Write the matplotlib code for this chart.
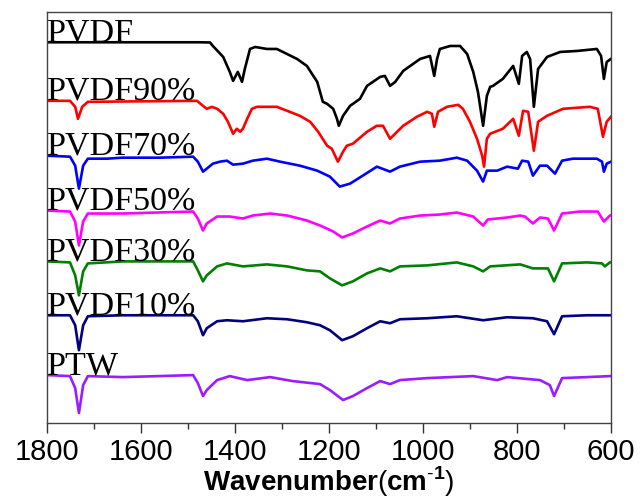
import numpy as np
import matplotlib
matplotlib.use('Agg')
import matplotlib.pyplot as plt
from matplotlib.ticker import MultipleLocator

plt.rcParams['mathtext.fontset'] = 'custom'
plt.rcParams['mathtext.rm'] = 'Liberation Sans'
plt.rcParams['mathtext.bf'] = 'Liberation Sans:bold'

# FTIR spectra, transmittance in arbitrary (stacked) units
pvdf_wn = [1800, 1474, 1453, 1447, 1425, 1411, 1404, 1394, 1385, 1379, 1368, 1357, 1332, 1311,
           1298, 1268, 1247, 1225, 1213, 1204, 1191, 1183, 1179, 1170, 1155, 1134, 1119, 1091,
           1081, 1070, 1059, 1042, 1006, 985, 976, 970, 964, 942, 921, 906, 893, 883, 872, 864,
           857, 851, 830, 808, 796, 789, 779, 772, 764, 755, 736, 708, 672, 630, 621, 615, 609, 600]
pvdf_t = [381.7, 381.7, 381.5, 378, 367, 352, 343, 352, 342, 355, 375, 377, 375, 375,
          372, 365, 358, 342, 322, 320, 315, 305, 298, 308, 318, 325, 338, 347,
          348, 338, 342, 353, 365, 368, 348, 365, 375, 378, 378, 370, 352, 332, 298, 328,
          337, 338, 345, 358, 340, 368, 372, 365, 317, 355, 367, 372, 373, 375, 368, 345, 362, 365]

p90_wn = [1800, 1751, 1740, 1734, 1725, 1713, 1481, 1468, 1460, 1449, 1438, 1425, 1415, 1404,
          1396, 1389, 1383, 1374, 1364, 1353, 1311, 1289, 1262, 1240, 1223, 1204, 1194, 1187,
          1181, 1170, 1162, 1149, 1119, 1098, 1085, 1070, 1055, 1042, 1013, 991, 981, 976, 968,
          949, 925, 915, 900, 885, 874, 870, 864, 857, 830, 808, 796, 787, 776, 764, 755, 736,
          702, 645, 628, 617, 609, 600]
p90_t = [323, 323, 317, 305, 317, 322, 323, 318, 315, 317, 315, 310, 302, 290,
         295, 292, 295, 305, 315, 317, 317, 313, 308, 302, 292, 278, 275, 268,
         262, 272, 278, 280, 292, 298, 298, 285, 292, 298, 307, 312, 310, 297, 312,
         317, 319, 315, 302, 285, 268, 257, 285, 290, 295, 305, 288, 313, 312, 273, 302, 308,
         315, 317, 315, 287, 302, 307]

p70_wn = [1800, 1751, 1740, 1732, 1723, 1713, 1672, 1640, 1560, 1489, 1479, 1468, 1460, 1447,
          1432, 1417, 1404, 1383, 1362, 1332, 1304, 1262, 1225, 1198, 1177, 1155, 1128, 1098,
          1070, 1049, 1006, 964, 928, 906, 885, 872, 864, 842, 821, 798, 789, 776, 766, 751,
          736, 719, 704, 681, 630, 619, 615, 609, 600]
p70_t = [268, 267, 258, 235, 258, 265, 265, 266, 266, 267, 262, 252, 255, 260,
         262, 263, 259, 260, 263, 265, 262, 258, 253, 247, 237, 240, 248, 257,
         252, 257, 262, 263, 266, 263, 253, 242, 253, 253, 257, 255, 263, 262, 248, 258,
         258, 250, 263, 265, 265, 262, 252, 260, 262]

p50_wn = [1800, 1751, 1740, 1732, 1723, 1713, 1640, 1566, 1489, 1479, 1468, 1460, 1438, 1411,
          1383, 1362, 1325, 1289, 1247, 1219, 1191, 1172, 1149, 1119, 1091, 1070, 1049, 1006,
          964, 928, 893, 872, 862, 821, 793, 783, 766, 751, 734, 721, 704, 666, 628, 615, 602]
p50_t = [213, 212, 202, 178, 202, 210, 210, 211, 212, 205, 193, 200, 207, 207,
         205, 208, 210, 208, 203, 198, 192, 186, 190, 197, 203, 200, 205, 208,
         209, 211, 207, 198, 204, 206, 208, 207, 200, 206, 205, 193, 210, 212, 212, 202, 208]

p30_wn = [1800, 1751, 1740, 1732, 1723, 1713, 1638, 1566, 1489, 1479, 1468, 1460, 1438, 1417,
          1383, 1332, 1289, 1247, 1219, 1198, 1172, 1149, 1119, 1091, 1070, 1049, 991, 928,
          893, 872, 857, 793, 766, 734, 721, 704, 651, 619, 613, 602]
p30_t = [162, 161, 148, 128, 152, 160, 162, 162, 162, 153, 142, 148, 157, 160,
         157, 159, 157, 153, 152, 145, 138, 142, 150, 155, 152, 157, 158, 161,
         157, 152, 157, 159, 155, 155, 142, 160, 161, 160, 157, 161]

p10_wn = [1800, 1751, 1740, 1732, 1723, 1713, 1638, 1489, 1479, 1468, 1460, 1438, 1417, 1383,
          1332, 1289, 1247, 1219, 1198, 1172, 1149, 1119, 1091, 1070, 1049, 991, 928, 872,
          821, 766, 736, 721, 704, 651, 602]
p10_t = [108, 108, 98, 73, 98, 107, 108, 108, 102, 88, 95, 102, 103, 102,
         105, 104, 101, 98, 93, 83, 87, 95, 102, 100, 104, 105, 107, 103,
         106, 105, 102, 89, 107, 108, 108]

ptw_wn = [1800, 1751, 1740, 1732, 1723, 1713, 1638, 1489, 1479, 1468, 1460, 1438, 1411, 1374,
          1325, 1277, 1219, 1198, 1170, 1149, 1119, 1091, 1070, 1049, 991, 893, 842, 821,
          751, 730, 721, 704, 651, 602]
ptw_t = [48, 47, 35, 10, 38, 47, 46, 48, 40, 27, 33, 43, 47, 43,
         46, 42, 39, 33, 23, 27, 35, 42, 39, 43, 45, 47, 43, 46,
         43, 38, 27, 45, 46, 47]

names = ['PVDF', 'PVDF90%', 'PVDF70%', 'PVDF50%', 'PVDF30%', 'PVDF10%', 'PTW']
series = [(pvdf_wn, pvdf_t), (p90_wn, p90_t), (p70_wn, p70_t), (p50_wn, p50_t),
          (p30_wn, p30_t), (p10_wn, p10_t), (ptw_wn, ptw_t)]
colors = ['black', '#ff0000', '#0000ff', '#ff00ff', '#008000', '#000080', '#9a1cff']

fig = plt.figure(figsize=(6.4, 5.02), dpi=100)
ax = fig.add_axes([0.0734, 0.1554, 0.8812, 0.818])

for (wn, t), c, name in zip(series, colors, names):
    ax.plot(wn, t, color=c, lw=1.9, solid_joinstyle='round')
    ax.text(1799, t[0] + 2, name, family='Liberation Serif', fontsize=24.5,
            ha='left', va='baseline', color='black')

ax.set_xlim(1800, 600)
ax.set_ylim(0, 411.7)
ax.set_yticks([])
ax.xaxis.set_major_locator(MultipleLocator(200))
ax.xaxis.set_minor_locator(MultipleLocator(100))
ax.tick_params(axis='x', which='major', direction='out', length=7, width=1,
               labelsize=21, pad=3, colors='#333333', labelcolor='black')
ax.tick_params(axis='x', which='minor', direction='out', length=4.5, width=1, colors='#333333')
for lab in ax.get_xticklabels():
    lab.set_family('Liberation Sans')
for s in ax.spines.values():
    s.set_color('#444444')
    s.set_linewidth(1)

ax.set_xlabel(r'Wavenumber$\mathrm{(}$cm$^{\mathbf{\text{-}1}}$$\mathrm{)}$', family='Liberation Sans',
              fontsize=20, fontweight='bold', labelpad=-1)

fig.savefig('out.png', dpi=100)
